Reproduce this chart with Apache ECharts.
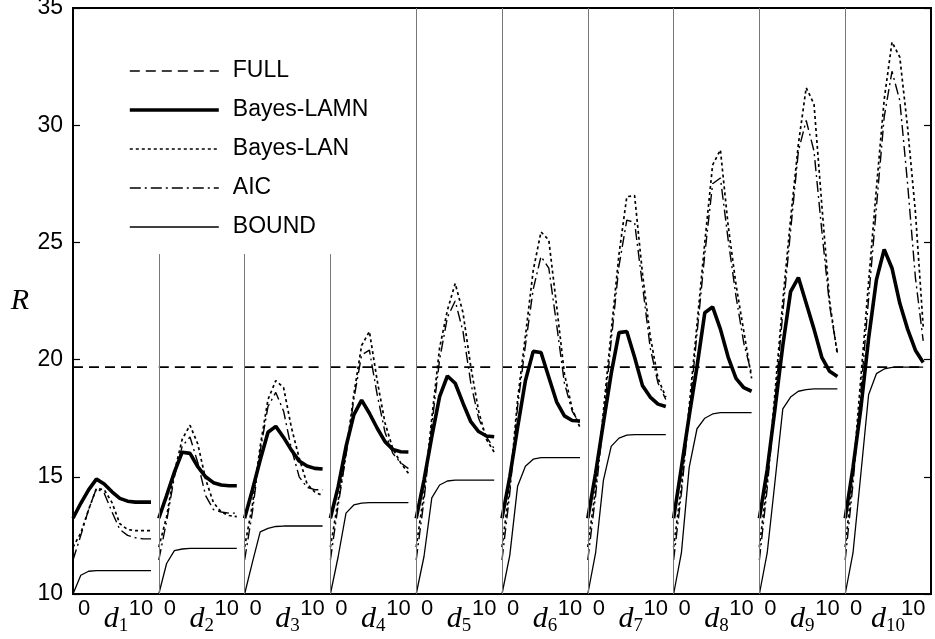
<!DOCTYPE html>
<html>
<head>
<meta charset="utf-8">
<script src="https://cdn.jsdelivr.net/npm/echarts@6/dist/echarts.min.js"></script>
<style>
  html, body { margin: 0; padding: 0; background: #fff; }
  #chart { width: 935px; height: 639px; }
</style>
</head>
<body>
<div id="chart"></div>
<script>
// d values inside each panel
const steps = [0, 1, 2, 3, 4, 5, 6, 7, 8, 9, 10];
const panelNames = ['1', '2', '3', '4', '5', '6', '7', '8', '9', '10'];
const fullRisk = 19.68;

const lamn = [
  [13.23, 13.87, 14.44, 14.9, 14.69, 14.36, 14.08, 13.96, 13.92, 13.92, 13.92],
  [13.23, 14.2, 15.2, 16.05, 16.0, 15.43, 15.0, 14.75, 14.65, 14.62, 14.62],
  [13.23, 14.44, 15.72, 16.9, 17.15, 16.68, 16.14, 15.67, 15.46, 15.36, 15.33],
  [13.23, 14.58, 16.28, 17.64, 18.27, 17.71, 17.07, 16.5, 16.17, 16.07, 16.06],
  [13.23, 14.86, 16.71, 18.42, 19.3, 18.99, 18.14, 17.35, 16.93, 16.74, 16.71],
  [13.23, 15.0, 17.1, 19.1, 20.35, 20.3, 19.25, 18.2, 17.6, 17.4, 17.38],
  [13.23, 15.15, 17.3, 19.4, 21.15, 21.2, 20.1, 18.9, 18.4, 18.1, 18.0],
  [13.23, 15.4, 17.6, 19.7, 22.0, 22.25, 21.3, 20.1, 19.2, 18.8, 18.65],
  [13.23, 15.3, 17.9, 20.6, 22.9, 23.5, 22.4, 21.3, 20.1, 19.5, 19.28],
  [13.23, 15.4, 17.9, 20.9, 23.4, 24.7, 23.9, 22.4, 21.3, 20.4, 19.88]
];

const lan = [
  [12.0, 12.6, 13.6, 14.5, 14.45, 13.9, 13.0, 12.75, 12.7, 12.7, 12.7],
  [12.0, 13.3, 15.2, 16.6, 17.2, 16.4, 14.9, 13.9, 13.5, 13.35, 13.3],
  [12.0, 13.8, 16.3, 18.3, 19.1, 18.8, 17.1, 15.8, 14.7, 14.35, 14.2],
  [12.0, 14.0, 16.0, 18.5, 20.6, 21.2, 19.1, 17.3, 16.2, 15.6, 15.15],
  [12.0, 14.3, 17.5, 20.5, 22.1, 23.25, 22.0, 19.7, 17.8, 16.6, 16.05],
  [12.0, 14.6, 18.3, 21.0, 23.8, 25.45, 25.1, 22.3, 19.4, 17.9, 17.1],
  [12.0, 14.5, 17.8, 21.2, 24.5, 26.95, 27.0, 23.7, 21.0, 19.2, 18.4],
  [12.0, 14.6, 18.0, 21.5, 25.0, 28.3, 28.95, 25.7, 23.2, 21.2, 19.2],
  [12.0, 14.8, 18.6, 22.5, 26.0, 29.2, 31.6, 30.9, 26.6, 22.5, 20.2],
  [12.0, 15.1, 19.2, 23.3, 27.3, 31.1, 33.55, 32.9, 29.9, 26.3, 21.4]
];

const aic = [
  [11.45, 12.5, 13.6, 14.5, 14.3, 13.5, 12.75, 12.5, 12.4, 12.35, 12.35],
  [11.45, 13.1, 15.0, 16.3, 16.7, 15.6, 14.2, 13.6, 13.5, 13.45, 13.45],
  [11.45, 13.5, 16.1, 18.0, 18.6, 17.8, 16.2, 15.0, 14.55, 14.45, 14.45],
  [11.45, 13.8, 15.9, 18.3, 20.2, 20.4, 18.5, 16.9, 16.0, 15.6, 15.35],
  [11.45, 14.0, 17.2, 20.0, 21.8, 22.5, 21.2, 19.0, 17.5, 16.7, 16.2],
  [11.45, 14.3, 18.0, 20.6, 23.0, 24.4, 23.9, 21.5, 19.0, 17.8, 17.25],
  [11.45, 14.2, 17.4, 20.8, 24.0, 25.95, 25.85, 23.2, 20.5, 19.0, 18.3],
  [11.45, 14.3, 17.7, 21.1, 24.5, 27.5, 27.75, 25.1, 22.7, 20.7, 19.4],
  [11.45, 14.5, 18.2, 22.0, 25.5, 28.9, 30.2, 28.9, 25.5, 22.3, 20.3],
  [11.45, 14.7, 18.6, 22.6, 26.5, 30.35, 32.3, 31.05, 27.5, 23.5, 20.8]
];

const bound = [
  [10, 10.8, 10.97, 11.0, 11.0, 11.0, 11.0, 11.0, 11.0, 11.0, 11.0],
  [10, 11.3, 11.85, 11.92, 11.95, 11.95, 11.95, 11.95, 11.95, 11.95, 11.95],
  [10, 11.35, 12.65, 12.8, 12.88, 12.9, 12.9, 12.9, 12.9, 12.9, 12.9],
  [10, 11.6, 13.45, 13.8, 13.88, 13.9, 13.9, 13.9, 13.9, 13.9, 13.9],
  [10, 11.6, 14.1, 14.65, 14.82, 14.86, 14.86, 14.86, 14.86, 14.86, 14.86],
  [10, 11.65, 14.6, 15.45, 15.75, 15.82, 15.82, 15.82, 15.82, 15.82, 15.82],
  [10, 11.75, 14.85, 16.3, 16.65, 16.78, 16.8, 16.8, 16.8, 16.8, 16.8],
  [10, 11.75, 15.4, 17.05, 17.5, 17.68, 17.74, 17.74, 17.74, 17.74, 17.74],
  [10, 11.75, 14.8, 17.9, 18.4, 18.65, 18.72, 18.75, 18.75, 18.75, 18.75],
  [10, 11.75, 15.1, 18.5, 19.4, 19.6, 19.67, 19.68, 19.68, 19.68, 19.68]
];

// height reached by the thin separator on the left of each panel
const dividerTop = [35, 24.5, 24.5, 24.5, 35, 35, 35, 35, 35, 35];

const sans = 'Liberation Sans, Arial, Helvetica, sans-serif';
const serif = 'Liberation Serif, Times New Roman, serif';

const chart = echarts.init(document.getElementById('chart'));

const plotLeft = 73, plotRight = 931, plotTop = 8, plotBottom = 594;
const panelW = (plotRight - plotLeft) / panelNames.length;

const grids = [{
  left: plotLeft, top: plotTop, width: plotRight - plotLeft, height: plotBottom - plotTop,
  outerBoundsMode: 'none',
  show: true, borderColor: '#000', borderWidth: 2, backgroundColor: 'transparent'
}];
const xAxes = [{ gridIndex: 0, type: 'value', min: 0, max: 1, show: false }];
const yAxes = [
  {
    gridIndex: 0, type: 'value', min: 10, max: 35, interval: 5,
    axisLine: { show: false },
    axisTick: { inside: true, length: 7, lineStyle: { color: '#000', width: 1.2 } },
    axisLabel: { color: '#000', fontSize: 23, fontFamily: sans, margin: 10 },
    splitLine: { show: false },
    name: 'R', nameLocation: 'middle', nameRotate: 0, nameGap: 44, nameMoveOverlap: false,
    nameTextStyle: { fontFamily: serif, fontStyle: 'italic', fontSize: 30, color: '#000', padding: [0, 0, 10, 0] }
  },
  {
    gridIndex: 0, type: 'value', min: 10, max: 35, interval: 5, position: 'right',
    axisLine: { show: false },
    axisTick: { inside: true, length: 7, lineStyle: { color: '#000', width: 1.2 } },
    axisLabel: { show: false },
    splitLine: { show: false }
  }
];

const series = [];
const common = { type: 'line', symbol: 'none', silent: true, animation: false };

panelNames.forEach((name, k) => {
  const g = k + 1;
  grids.push({
    left: plotLeft + k * panelW, top: plotTop, width: panelW, height: plotBottom - plotTop,
    outerBoundsMode: 'none'
  });
  xAxes.push({
    gridIndex: g, type: 'value', min: 0, max: 11,
    axisLine: { show: false }, axisTick: { show: false }, splitLine: { show: false },
    axisLabel: {
      customValues: [0, 10], margin: 4, color: '#000', fontSize: 22, fontFamily: sans,
      formatter: v => (v === 0 ? '{z|0}' : '{t|10}'),
      rich: {
        z: { fontSize: 22, fontFamily: sans, color: '#000', padding: [0, 0, 0, 22] },
        t: { fontSize: 22, fontFamily: sans, color: '#000', padding: [0, 20, 0, 0] }
      }
    },
    name: '{d|d}{s|' + name + '}', nameLocation: 'middle', nameGap: 8, nameMoveOverlap: false,
    nameTextStyle: {
      rich: {
        d: { fontFamily: serif, fontStyle: 'italic', fontSize: 30, color: '#000', lineHeight: 34 },
        s: { fontFamily: serif, fontSize: 19, color: '#000', verticalAlign: 'bottom', lineHeight: 20 }
      }
    }
  });
  yAxes.push({ gridIndex: g, type: 'value', min: 10, max: 35, show: false });

  const idx = { xAxisIndex: g, yAxisIndex: g + 1 };
  const pts = arr => steps.map((s, i) => [s, arr[i]]);

  series.push(Object.assign({}, common, idx, {
    name: 'FULL',
    data: steps.map(s => [s, fullRisk]),
    lineStyle: { color: '#000', width: 1.6, type: [10, 6] },
    markLine: {
      silent: true, symbol: 'none', label: { show: false }, animation: false,
      lineStyle: { color: '#777', width: 1, type: 'solid' },
      data: k === 0 ? [] : [[{ coord: [0, 10] }, { coord: [0, dividerTop[k]] }]]
    }
  }));
  series.push(Object.assign({}, common, idx, {
    name: 'BOUND', data: pts(bound[k]),
    lineStyle: { color: '#000', width: 1.3, type: 'solid' }
  }));
  series.push(Object.assign({}, common, idx, {
    name: 'AIC', data: pts(aic[k]),
    lineStyle: { color: '#000', width: 1.4, type: [11, 4, 2, 4] }
  }));
  series.push(Object.assign({}, common, idx, {
    name: 'Bayes-LAN', data: pts(lan[k]),
    lineStyle: { color: '#000', width: 1.7, type: [3, 3] }
  }));
  series.push(Object.assign({}, common, idx, {
    name: 'Bayes-LAMN', data: pts(lamn[k]),
    lineStyle: { color: '#000', width: 3.6, type: 'solid' }
  }));
});

const option = {
  animation: false,
  backgroundColor: '#fff',
  legend: {
    orient: 'vertical', left: 123, top: 53,
    itemWidth: 89, itemHeight: 14, itemGap: 13,
    selectedMode: false,
    data: ['FULL', 'Bayes-LAMN', 'Bayes-LAN', 'AIC', 'BOUND'],
    itemStyle: { opacity: 0 },
    lineStyle: { width: 'inherit' },
    textStyle: { fontSize: 23, fontFamily: sans, color: '#000', lineHeight: 26, padding: [0, 0, 0, 9] }
  },
  grid: grids,
  xAxis: xAxes,
  yAxis: yAxes,
  series: series
};

chart.setOption(option);
</script>
</body>
</html>
